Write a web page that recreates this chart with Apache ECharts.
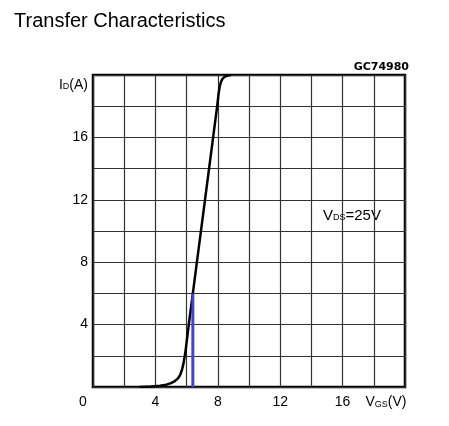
<!DOCTYPE html>
<html>
<head>
<meta charset="utf-8">
<script src="https://cdn.jsdelivr.net/npm/echarts@6/dist/echarts.min.js"></script>
<style>
html,body{margin:0;padding:0;background:#fff;}
#chart{width:449px;height:426px;}
</style>
</head>
<body>
<div id="chart"></div>
<script>
// Transfer characteristic curve (VGS in V, ID in A)
const vgs = [3.0, 3.7, 4.3, 4.7, 5.0, 5.25, 5.45, 5.6, 5.7, 5.8, 5.93, 6.03, 6.14, 6.66, 7.18, 7.70, 7.96, 8.05, 8.12, 8.2, 8.3, 8.45, 8.65, 8.85];
const id  = [0.0, 0.03, 0.08, 0.15, 0.25, 0.38, 0.55, 0.8, 1.1, 1.5, 2.3, 3.1, 4.0, 8.0, 12.0, 16.0, 18.0, 18.8, 19.25, 19.55, 19.75, 19.9, 19.97, 20.0];
// Blue marker line
const markerV = [6.4, 6.4];
const markerI = [0, 6];
// Tick labels
const xTickLabels = [0, 4, 8, 12, 16];
const yTickLabels = [4, 8, 12, 16];
const xMax = 20, yMax = 20, step = 2;

const curve = vgs.map((v, i) => [v, id[i]]);
const marker = markerV.map((v, i) => [v, markerI[i]]);

const labelFont = 'Liberation Sans, Arial, sans-serif';
const chart = echarts.init(document.getElementById('chart'), null, {renderer: 'canvas'});
chart.setOption({
  animation: false,
  backgroundColor: '#fff',
  grid: {left: 93, right: 44, top: 75, bottom: 39, show: true, borderColor: '#000', borderWidth: 2.5, containLabel: false},
  xAxis: {
    type: 'value', min: 0, max: xMax, interval: step,
    axisLine: {show: false}, axisTick: {show: false},
    splitLine: {show: true, lineStyle: {color: '#333', width: 1.2}},
    axisLabel: {
      margin: 8, color: '#000', fontSize: 14, fontFamily: labelFont,
      showMinLabel: true, showMaxLabel: true,
      formatter: function (v) {
        if (v === 0) return '{z|0}';
        if (v === xMax) return '{n|V}{s|GS}{e|(V)}';
        return xTickLabels.indexOf(v) >= 0 ? String(v) : '';
      },
      rich: {
        z: {fontSize: 14, fontFamily: labelFont, color: '#000', padding: [0, 20, 0, 0]},
        n: {fontSize: 14, fontFamily: labelFont, color: '#000'},
        s: {fontSize: 9, fontFamily: labelFont, color: '#000', verticalAlign: 'bottom', padding: [3, 0, 0, 0]},
        e: {fontSize: 14, fontFamily: labelFont, color: '#000', padding: [0, 38, 0, 0]}
      }
    }
  },
  yAxis: {
    type: 'value', min: 0, max: yMax, interval: step,
    axisLine: {show: false}, axisTick: {show: false},
    splitLine: {show: true, lineStyle: {color: '#333', width: 1.2}},
    axisLabel: {
      margin: 5, color: '#000', fontSize: 14, fontFamily: labelFont,
      showMinLabel: true, showMaxLabel: true,
      formatter: function (v) {
        if (v === yMax) return '{n|I}{s|D}{n|(A)}';
        return yTickLabels.indexOf(v) >= 0 ? String(v) : '';
      },
      rich: {
        n: {fontSize: 14, fontFamily: labelFont, color: '#000', padding: [20, 0, 0, 0]},
        s: {fontSize: 9, fontFamily: labelFont, color: '#000', padding: [23, 0, 0, 0]}
      }
    }
  },
  graphic: [
    {type: 'text', left: 14, top: 11, style: {text: 'Transfer Characteristics', fontSize: 20, fontFamily: labelFont, fill: '#000'}},
    {type: 'text', right: 40, top: 62, style: {text: 'GC74980', fontSize: 11, fontWeight: 'bold', fontFamily: 'DejaVu Sans, sans-serif', fill: '#000'}},
    {type: 'text', left: 323, top: 208, style: {
      text: '{n|V}{s|DS}{n|=25V}',
      rich: {
        n: {fontSize: 15, fontFamily: labelFont, fill: '#000'},
        s: {fontSize: 9, fontFamily: labelFont, fill: '#000', padding: [4, 0, 0, 0]}
      }
    }}
  ],
  series: [
    {type: 'line', data: curve, showSymbol: false, smooth: false, clip: true,
     lineStyle: {color: '#000', width: 2.5, join: 'round'}, z: 3},
    {type: 'line', data: marker, showSymbol: false, lineStyle: {color: '#3c45d6', width: 3}, z: 4}
  ]
});
</script>
</body>
</html>
